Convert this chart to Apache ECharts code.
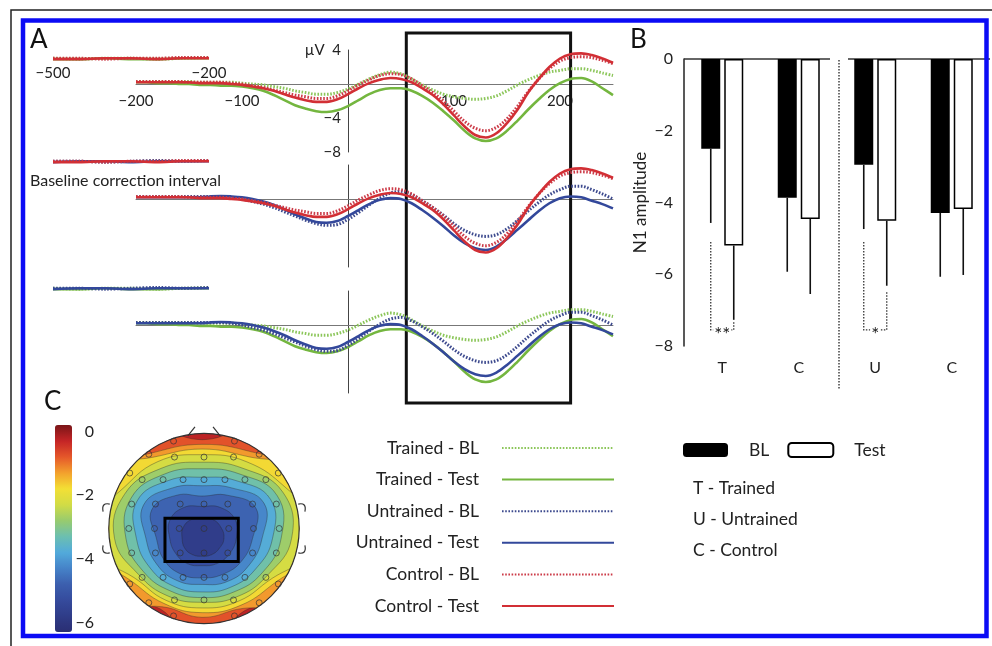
<!DOCTYPE html>
<html>
<head>
<meta charset="utf-8">
<script src="https://cdn.jsdelivr.net/npm/echarts@6/dist/echarts.min.js"></script>
<style>
  html, body { margin: 0; padding: 0; background: #fff; }
  #chart { width: 992px; height: 646px; }
</style>
</head>
<body>
<div id="chart"></div>
<script>
// ---------- Panel A: grand-average ERPs (µV), sampled every 10 ms ----------
const timesMs = Array.from({ length: 46 }, (_, i) => -200 + 10 * i);
const baselineTimesMs = [-500, -450, -400, -350, -300, -250, -200];

const trainedBL = [
  0.3, 0.3, 0.3, 0.3, 0.3, 0.3, 0.2, 0.2, 0.2, 0.2,
  0.1, 0.0, -0.1, -0.3, -0.5, -0.8, -1.0, -1.2, -1.2, -1.0,
  -0.6, 0.0, 0.6, 1.1, 1.4, 1.2, 0.6, -0.1, -0.7, -1.2,
  -1.5, -1.7, -1.8, -1.7, -1.4, -0.8, -0.1, 0.5, 1.0, 1.4,
  1.6, 1.8, 1.8, 1.6, 1.3, 1.0
];
const trainedTest = [
  0.2, 0.2, 0.1, 0.1, 0.0, 0.0, -0.1, -0.1, -0.2, -0.2,
  -0.3, -0.5, -0.8, -1.3, -1.9, -2.5, -2.9, -3.2, -3.3, -3.1,
  -2.6, -1.9, -1.2, -0.7, -0.5, -0.5, -0.8, -1.4, -2.2, -3.2,
  -4.3, -5.5, -6.4, -6.7, -6.4, -5.5, -4.3, -3.0, -1.8, -0.7,
  0.1, 0.6, 0.7, 0.3, -0.5, -1.3
];
const untrainedBL = [
  0.3, 0.3, 0.3, 0.3, 0.3, 0.3, 0.3, 0.3, 0.3, 0.2,
  0.0, -0.3, -0.6, -1.0, -1.5, -2.0, -2.5, -2.9, -3.1, -3.0,
  -2.4, -1.6, -0.7, 0.1, 0.7, 0.9, 0.5, -0.2, -1.0, -1.9,
  -2.9, -3.7, -4.2, -4.4, -4.2, -3.5, -2.5, -1.4, -0.4, 0.5,
  1.1, 1.5, 1.5, 1.1, 0.6, 0.0
];
const untrainedTest = [
  0.2, 0.2, 0.2, 0.2, 0.2, 0.2, 0.2, 0.3, 0.35, 0.3,
  0.2, 0.0, -0.3, -0.7, -1.2, -1.8, -2.3, -2.7, -2.8, -2.6,
  -2.0, -1.3, -0.6, -0.1, 0.1, 0.0, -0.5, -1.3, -2.2, -3.2,
  -4.3, -5.2, -5.8, -6.0, -5.6, -4.7, -3.6, -2.5, -1.4, -0.5,
  0.1, 0.3, 0.2, -0.2, -0.6, -1.1
];
const controlBL = [
  0.3, 0.3, 0.3, 0.3, 0.3, 0.2, 0.2, 0.2, 0.2, 0.1,
  0.0, -0.2, -0.4, -0.7, -1.0, -1.3, -1.5, -1.7, -1.7, -1.4,
  -0.8, -0.1, 0.5, 1.0, 1.2, 1.1, 0.6, -0.2, -1.0, -2.0,
  -3.2, -4.4, -5.2, -5.5, -5.1, -4.1, -2.6, -0.9, 0.6, 1.8,
  2.7, 3.1, 3.2, 3.1, 2.8, 2.4
];
const controlTest = [
  0.2, 0.2, 0.2, 0.2, 0.2, 0.2, 0.1, 0.1, 0.1, 0.0,
  -0.1, -0.3, -0.5, -0.8, -1.2, -1.6, -1.9, -2.1, -2.1, -1.8,
  -1.2, -0.5, 0.1, 0.5, 0.7, 0.6, 0.2, -0.5, -1.3, -2.4,
  -3.7, -5.0, -6.0, -6.3, -5.8, -4.6, -3.0, -1.0, 0.6, 2.0,
  3.0, 3.5, 3.6, 3.4, 3.0, 2.5
];

// baseline-correction interval (-500 to -200 ms)
const trainedBLPre = [0.2, 0.1, 0.2, 0.2, 0.1, 0.2, 0.3];
const trainedTestPre = [0.1, 0.1, 0.2, 0.1, 0.1, 0.2, 0.2];
const untrainedBLPre = [0.2, 0.2, 0.1, 0.2, 0.3, 0.2, 0.3];
const untrainedTestPre = [0.1, 0.2, 0.2, 0.1, 0.2, 0.2, 0.2];
const controlBLPre = [0.2, 0.2, 0.1, 0.2, 0.2, 0.3, 0.3];
const controlTestPre = [0.1, 0.1, 0.2, 0.2, 0.1, 0.2, 0.2];

const conditionNames = ['Trained - BL', 'Trained - Test', 'Untrained - BL',
  'Untrained - Test', 'Control - BL', 'Control - Test'];
const waveRows = [
  ['Trained - BL', 'Trained - Test', 'Control - BL', 'Control - Test'],
  ['Untrained - BL', 'Untrained - Test', 'Control - BL', 'Control - Test'],
  ['Trained - BL', 'Trained - Test', 'Untrained - BL', 'Untrained - Test']
];
const n1WindowMs = [55, 210];
const timeRange = [-200, 250];
const voltRange = [-8, 4];
const baselineRange = [-500, -200];
const baselineVoltRange = [-2, 2];
const timeTickLabels = [-200, -100, 100, 200];
const baselineTickLabels = [-500, -200];
const voltTickLabels = [4, -4, -8];

// ---------- Panel B: N1 amplitude (mean, error) ----------
const groupCategories = ['T', 'C', 'U', 'C'];
const blValues = [-2.5, -3.87, -2.95, -4.29];
const testValues = [-5.2, -4.46, -4.51, -4.18];
const blErr = [2.07, 2.06, 1.79, 1.78];
const testErr = [2.07, 2.09, 1.81, 1.84];
const sigCats = [0, 2];
const sigLeftTop = [-5.1, -5.1];
const sigRightTop = [-7.3, -6.5];
const sigBottom = [-7.55, -7.55];
const sigMarks = ['**', '*'];
const separatorRange = [0, -9.2];
const abbreviations = ['T - Trained', 'U - Untrained', 'C - Control'];

// ---------- Panel C: N1 scalp topography ----------
const contourLevels = [-0.5, -1, -1.5, -2, -2.5, -3, -3.5, -4, -4.5, -5, -5.5];
// radius of each contour (head radius = 1) seen from the field minimum,
// at 0°, 30°, ... 330° counter-clockwise from the right ear; null = off the scalp
const contourRadii = [
  [null, null, null, 1.05, null, null, null, null, 0.87, null, 0.89, null],
  [null, null, 1.06, 1.00, 1.05, null, null, null, 0.84, 0.84, 0.86, null],
  [null, null, 1.00, 0.95, 1.00, null, null, 0.88, 0.80, 0.79, 0.82, 0.91],
  [null, 1.04, 0.94, 0.89, 0.94, 1.00, null, 0.83, 0.76, 0.74, 0.77, 0.85],
  [0.94, 0.98, 0.86, 0.81, 0.86, 0.94, 0.92, 0.77, 0.71, 0.68, 0.72, 0.79],
  [0.83, 0.91, 0.79, 0.74, 0.79, 0.86, 0.80, 0.71, 0.65, 0.63, 0.66, 0.73],
  [0.74, 0.83, 0.71, 0.65, 0.71, 0.79, 0.69, 0.63, 0.59, 0.57, 0.60, 0.65],
  [0.63, 0.75, 0.62, 0.56, 0.62, 0.71, 0.59, 0.55, 0.52, 0.49, 0.53, 0.57],
  [0.53, 0.65, 0.53, 0.45, 0.53, 0.61, 0.48, 0.46, 0.44, 0.42, 0.44, 0.48],
  [0.36, 0.40, 0.38, 0.34, 0.38, 0.39, 0.34, 0.32, 0.31, 0.29, 0.31, 0.33],
  [0.23, 0.23, 0.23, 0.21, 0.23, 0.23, 0.21, 0.21, 0.20, 0.19, 0.20, 0.21]
];
const fieldMinimum = [-0.02, -0.105];
const electrodes = [
  [-0.31, 0.76], [0, 0.76], [0.31, 0.76],
  [-0.65, 0.52], [-0.43, 0.52], [-0.22, 0.52], [0, 0.52], [0.22, 0.52], [0.43, 0.52], [0.65, 0.52],
  [-0.76, 0.26], [-0.51, 0.26], [-0.25, 0.26], [0, 0.26], [0.25, 0.26], [0.51, 0.26], [0.76, 0.26],
  [-0.79, 0], [-0.52, 0], [-0.26, 0], [0, 0], [0.26, 0], [0.52, 0], [0.79, 0],
  [-0.76, -0.26], [-0.51, -0.26], [-0.25, -0.26], [0, -0.26], [0.25, -0.26], [0.51, -0.26], [0.76, -0.26],
  [-0.65, -0.52], [-0.43, -0.52], [-0.22, -0.52], [0, -0.52], [0.22, -0.52], [0.43, -0.52], [0.65, -0.52],
  [-0.31, -0.76], [0, -0.76], [0.31, -0.76],
  [0.78, 0.59], [0.58, 0.79], [0.32, 0.93], [-0.32, 0.93], [-0.58, 0.79], [-0.78, 0.59],
  [-0.78, -0.59], [-0.58, -0.79], [-0.32, -0.93], [0.32, -0.93], [0.58, -0.79], [0.78, -0.59]
];
const roiX = [-0.41, 0.36];
const roiY = [-0.35, 0.11];
const colorbarTicks = [0, -2, -4, -6];

// ---------- styling ----------
const FONT = 'Lato, "Open Sans", sans-serif';
const TEXT = '#222';
const condStyle = {
  'Trained - BL': { color: '#8cc65a', dotted: true },
  'Trained - Test': { color: '#74b63f', dotted: false },
  'Untrained - BL': { color: '#3d4a8e', dotted: true },
  'Untrained - Test': { color: '#33489b', dotted: false },
  'Control - BL': { color: '#cc3b48', dotted: true },
  'Control - Test': { color: '#d22f35', dotted: false }
};
const waveforms = {
  'Trained - BL': trainedBL, 'Trained - Test': trainedTest,
  'Untrained - BL': untrainedBL, 'Untrained - Test': untrainedTest,
  'Control - BL': controlBL, 'Control - Test': controlTest
};
const preStim = {
  'Trained - BL': trainedBLPre, 'Trained - Test': trainedTestPre,
  'Untrained - BL': untrainedBLPre, 'Untrained - Test': untrainedTestPre,
  'Control - BL': controlBLPre, 'Control - Test': controlTestPre
};
const minus = v => String(v).replace('-', '\u2212');

const BAR_W = 19;
const BAR_GAP = 4;
const BAR_OFFSET = (BAR_W + BAR_GAP) / 2;

// shift an axis from the grid edge onto the other axis' zero
const zeroShift = (size, range) => -size * (0 - range[0]) / (range[1] - range[0]);

// ---------- grids ----------
const ROW_W = 477, ROW_H = 102, BASE_W = 156, BASE_H = 34;
const rowTops = [50, 165, 291];
const baseTops = [43, 146, 273];
const grids = [];
const xAxes = [];
const yAxes = [];

rowTops.forEach((top, r) => {
  grids.push({ left: 136, top: top, width: ROW_W, height: ROW_H });
  xAxes.push({
    type: 'value', gridIndex: grids.length - 1, min: timeRange[0], max: timeRange[1], interval: 100,
    offset: zeroShift(ROW_H, voltRange),
    axisLine: { onZero: false, lineStyle: { color: '#777', width: 1 } },
    axisTick: { show: false }, splitLine: { show: false },
    axisLabel: {
      show: r === 0, customValues: timeTickLabels, formatter: minus, margin: 10,
      fontFamily: FONT, fontSize: 15, color: TEXT
    }
  });
  yAxes.push({
    type: 'value', gridIndex: grids.length - 1, min: voltRange[0], max: voltRange[1], interval: 4,
    offset: zeroShift(ROW_W, timeRange),
    axisLine: { onZero: false, lineStyle: { color: '#444', width: 1 } },
    axisTick: { show: false }, splitLine: { show: false },
    axisLabel: {
      show: r === 0, customValues: voltTickLabels, margin: 7,
      formatter: v => (v === 4 ? '\u00b5V  4' : minus(v)),
      fontFamily: FONT, fontSize: 15, color: TEXT
    }
  });
});
baseTops.forEach((top, r) => {
  grids.push({ left: 53, top: top, width: BASE_W, height: BASE_H });
  xAxes.push({
    type: 'value', gridIndex: grids.length - 1, min: baselineRange[0], max: baselineRange[1],
    offset: zeroShift(BASE_H, baselineVoltRange),
    axisLine: { show: false, onZero: false },
    axisTick: { show: false }, splitLine: { show: false },
    axisLabel: {
      show: r === 0, customValues: baselineTickLabels, formatter: minus, margin: 6,
      fontFamily: FONT, fontSize: 15, color: TEXT
    }
  });
  yAxes.push({
    type: 'value', gridIndex: grids.length - 1,
    min: baselineVoltRange[0], max: baselineVoltRange[1], show: false
  });
});
// N1 window overlay across the three rows
grids.push({ left: 136, top: 33, width: ROW_W, height: 370 });
xAxes.push({ type: 'value', gridIndex: 6, min: timeRange[0], max: timeRange[1], show: false });
yAxes.push({ type: 'value', gridIndex: 6, min: 0, max: 1, show: false });
// Panel B
grids.push({ left: 684, top: 59, width: 306, height: 287 });
xAxes.push({
  type: 'category', gridIndex: 7, data: groupCategories,
  axisLine: { show: false, onZero: false }, axisTick: { show: false },
  axisLabel: { margin: 14, fontFamily: FONT, fontSize: 16, color: TEXT }
});
yAxes.push({
  type: 'value', gridIndex: 7, min: -8, max: 0, interval: 2,
  name: 'N1 amplitude', nameLocation: 'middle', nameGap: 35,
  nameTextStyle: { fontFamily: FONT, fontSize: 17, color: TEXT },
  axisLine: { show: true, lineStyle: { color: '#222', width: 1.5 } },
  axisTick: { show: false }, splitLine: { show: false },
  axisLabel: { formatter: minus, margin: 11, fontFamily: FONT, fontSize: 16, color: TEXT }
});
// Panel C colour-bar ticks
grids.push({ left: 55, top: 425, width: 17, height: 207 });
xAxes.push({ type: 'value', gridIndex: 8, show: false, min: 0, max: 1 });
yAxes.push({
  type: 'value', gridIndex: 8, min: -6.3, max: 0.2, position: 'right',
  axisLine: { show: false }, axisTick: { show: false }, splitLine: { show: false },
  axisLabel: {
    customValues: colorbarTicks, formatter: minus, align: 'right', margin: 22,
    fontFamily: FONT, fontSize: 16, color: TEXT
  }
});
// Panel C head
grids.push({ left: 85, top: 411, width: 238, height: 238 });
xAxes.push({ type: 'value', gridIndex: 9, show: false, min: -1.25, max: 1.25 });
yAxes.push({ type: 'value', gridIndex: 9, show: false, min: -1.25, max: 1.25 });

// ---------- series ----------
const series = [];
waveRows.forEach((names, r) => {
  names.forEach(name => {
    const st = condStyle[name];
    const lineStyle = {
      color: st.color,
      width: st.dotted ? 3 : 2.6,
      type: st.dotted ? [1.6, 1.6] : 'solid'
    };
    series.push({
      type: 'line', name: name, xAxisIndex: r, yAxisIndex: r,
      data: timesMs.map((t, i) => [t, waveforms[name][i]]),
      smooth: 0.35, symbol: 'none', silent: true,
      lineStyle: lineStyle, itemStyle: { color: st.color }
    });
    series.push({
      type: 'line', name: name, xAxisIndex: 3 + r, yAxisIndex: 3 + r,
      data: baselineTimesMs.map((t, i) => [t, preStim[name][i]]),
      smooth: 0.3, symbol: 'none', silent: true,
      lineStyle: lineStyle, itemStyle: { color: st.color }
    });
  });
});

series.push({
  type: 'line', name: 'N1 window', xAxisIndex: 6, yAxisIndex: 6,
  data: [[n1WindowMs[0], 0]], symbol: 'none', silent: true,
  lineStyle: { opacity: 0 },
  markArea: {
    silent: true,
    itemStyle: { color: 'rgba(0,0,0,0)', borderColor: '#111', borderWidth: 3 },
    data: [[{ xAxis: n1WindowMs[0] }, { xAxis: n1WindowMs[1] }]]
  }
});

// bars
series.push({
  type: 'bar', name: 'BL', xAxisIndex: 7, yAxisIndex: 7, data: blValues,
  barWidth: BAR_W, barGap: (BAR_GAP / BAR_W * 100) + '%', silent: true,
  itemStyle: { color: '#000' }
});
series.push({
  type: 'bar', name: 'Test', xAxisIndex: 7, yAxisIndex: 7, data: testValues,
  barWidth: BAR_W, silent: true,
  itemStyle: { color: '#fff', borderColor: '#000', borderWidth: 1.5 }
});
// error bars
const errData = [];
groupCategories.forEach((c, i) => {
  errData.push([i, blValues[i], blErr[i], -1]);
  errData.push([i, testValues[i], testErr[i], 1]);
});
series.push({
  type: 'custom', name: 'error', xAxisIndex: 7, yAxisIndex: 7, silent: true,
  encode: { x: 0, y: 1 }, data: errData,
  renderItem: (params, api) => {
    const cat = api.value(0);
    const top = api.coord([cat, api.value(1)]);
    const bottom = api.coord([cat, api.value(1) - api.value(2)]);
    const x = top[0] + api.value(3) * BAR_OFFSET;
    return {
      type: 'line', shape: { x1: x, y1: top[1], x2: x, y2: bottom[1] },
      style: { stroke: '#111', lineWidth: 1.6 }
    };
  }
});
// zero line and group separator
series.push({
  type: 'custom', name: 'frame', xAxisIndex: 7, yAxisIndex: 7, silent: true,
  encode: { x: 0, y: 1 }, data: [[0, 0]],
  renderItem: (params, api) => {
    const cs = params.coordSys;
    const sepX = (api.coord([1, 0])[0] + api.coord([2, 0])[0]) / 2 + 2;
    const y0 = api.coord([0, separatorRange[0]])[1];
    const y1 = api.coord([0, separatorRange[1]])[1];
    const solid = { stroke: '#333', lineWidth: 1.5 };
    return {
      type: 'group', children: [
        { type: 'line', shape: { x1: cs.x, y1: y0, x2: sepX - 9, y2: y0 }, style: solid },
        { type: 'line', shape: { x1: sepX + 9, y1: y0, x2: cs.x + cs.width, y2: y0 }, style: solid },
        { type: 'line', shape: { x1: sepX, y1: y0 + 1, x2: sepX, y2: y1 },
          style: { stroke: '#333', lineWidth: 1.4, lineDash: [1.5, 1.5] } }
      ]
    };
  }
});
// significance brackets
series.push({
  type: 'custom', name: 'significance', xAxisIndex: 7, yAxisIndex: 7, silent: true,
  encode: { x: 0, y: 1 },
  data: sigCats.map((c, i) => [c, sigLeftTop[i], sigRightTop[i], sigBottom[i], i]),
  renderItem: (params, api) => {
    const cat = api.value(0);
    const cx = api.coord([cat, 0])[0];
    const xl = cx - BAR_OFFSET;
    const xr = cx + BAR_OFFSET;
    const yl = api.coord([cat, api.value(1)])[1];
    const yr = api.coord([cat, api.value(2)])[1];
    const yb = api.coord([cat, api.value(3)])[1];
    return {
      type: 'group', children: [
        { type: 'polyline', shape: { points: [[xl, yl], [xl, yb], [xr, yb], [xr, yr]] },
          style: { stroke: '#333', lineWidth: 1.3, lineDash: [1.5, 1.5], fill: null } },
        { type: 'text', z2: 5,
          style: { x: cx, y: yb + 5, text: sigMarks[api.value(4)], textAlign: 'center',
            textVerticalAlign: 'middle', fontFamily: FONT, fontSize: 19, fill: TEXT,
            backgroundColor: '#fff', padding: [0, 1] } }
      ]
    };
  }
});

// topography bands (coloured through the visualMap)
const bandValues = [-0.25].concat(contourLevels.map(l => l - 0.25));
const topoIndex = series.length;
series.push({
  type: 'custom', name: 'topography', xAxisIndex: 9, yAxisIndex: 9, silent: true,
  encode: { x: 0, y: 0 }, data: bandValues.map((v, i) => [v, i]), z: 1,
  renderItem: (params, api) => {
    const idx = params.dataIndex;
    const color = api.visual('color');
    const c = api.coord([0, 0]);
    const rPx = api.coord([1, 0])[0] - c[0];
    if (idx === 0) {
      return { type: 'circle', shape: { cx: c[0], cy: c[1], r: rPx }, style: { fill: color } };
    }
    const radii = contourRadii[idx - 1];
    const pts = radii.map((r, k) => {
      const a = k * Math.PI / 6;
      const rr = r == null ? 1.4 : r;
      return api.coord([fieldMinimum[0] + rr * Math.cos(a), fieldMinimum[1] + rr * Math.sin(a)]);
    });
    return {
      type: 'polygon', shape: { points: pts, smooth: 0.45 },
      style: { fill: color, stroke: 'rgba(40,40,40,0.45)', lineWidth: 0.8 },
      clipPath: { type: 'circle', shape: { cx: c[0], cy: c[1], r: rPx } }
    };
  }
});
// head outline, nose, ears and region of interest
series.push({
  type: 'custom', name: 'head', xAxisIndex: 9, yAxisIndex: 9, silent: true,
  encode: { x: 0, y: 1 }, data: [[0, 0]], z: 3,
  renderItem: (params, api) => {
    const p = (x, y) => api.coord([x, y]);
    const c = p(0, 0);
    const rPx = p(1, 0)[0] - c[0];
    const ink = { stroke: '#333', lineWidth: 1.2, fill: null };
    const ear = (s, t) => {
      const a = p(s * 0.99, t * 0.26), b = p(s * 1.08, t * 0.28), e = p(s * 1.06, t * 0.18);
      return { type: 'bezierCurve',
        shape: { x1: a[0], y1: a[1], cpx1: b[0], cpy1: b[1], x2: e[0], y2: e[1] }, style: ink };
    };
    const n1 = p(-0.17, 0.985), n2 = p(-0.095, 1.08), n3 = p(0.095, 1.08), n4 = p(0.17, 0.985);
    const r1 = p(roiX[0], roiY[1]), r2 = p(roiX[1], roiY[0]);
    return {
      type: 'group', children: [
        { type: 'circle', shape: { cx: c[0], cy: c[1], r: rPx }, style: ink },
        { type: 'line', shape: { x1: n1[0], y1: n1[1], x2: n2[0], y2: n2[1] }, style: ink },
        { type: 'line', shape: { x1: n4[0], y1: n4[1], x2: n3[0], y2: n3[1] }, style: ink },
        ear(-1, 1), ear(-1, -1), ear(1, 1), ear(1, -1),
        { type: 'rect', z2: 10,
          shape: { x: r1[0], y: r1[1], width: r2[0] - r1[0], height: r2[1] - r1[1] },
          style: { stroke: '#000', lineWidth: 3, fill: null } }
      ]
    };
  }
});
series.push({
  type: 'scatter', name: 'electrodes', xAxisIndex: 9, yAxisIndex: 9, silent: true,
  data: electrodes, symbol: 'circle', symbolSize: 6, z: 2,
  itemStyle: { color: 'rgba(0,0,0,0)', borderColor: 'rgba(50,50,50,0.85)', borderWidth: 1 }
});

// ---------- option ----------
const option = {
  animation: false,
  backgroundColor: '#fff',
  grid: grids,
  xAxis: xAxes,
  yAxis: yAxes,
  series: series,
  visualMap: {
    type: 'continuous', seriesIndex: topoIndex, dimension: 0,
    min: -6.3, max: 0.2, left: 55, top: 425, itemWidth: 17, itemHeight: 207,
    padding: 0, calculable: false, hoverLink: false, text: null, showLabel: false,
    inRange: {
      color: ['#2a2e72', '#2f3c88', '#354b9d', '#3c5fae', '#4683c8', '#52aadb', '#6cbfb0',
        '#98cb6e', '#d2dc45', '#f3df35', '#f3a02d', '#e5572a', '#c42426', '#7a1518']
    }
  },
  legend: [
    {
      data: conditionNames, orient: 'vertical', align: 'right', right: 377, top: 439,
      padding: 0, itemWidth: 112, itemHeight: 12, itemGap: 13.6, selectedMode: false,
      itemStyle: { color: 'rgba(0,0,0,0)', borderColor: 'rgba(0,0,0,0)', borderWidth: 0 },
      textStyle: { fontFamily: FONT, fontSize: 17.5, color: TEXT, padding: [0, 18, 0, 0] }
    },
    {
      data: ['BL', 'Test'], orient: 'horizontal', left: 683, top: 441, padding: 0,
      itemWidth: 45, itemHeight: 14, itemGap: 18, selectedMode: false,
      textStyle: { fontFamily: FONT, fontSize: 17.5, color: TEXT, padding: [0, 0, 0, 16] }
    }
  ],
  graphic: [
    { type: 'polyline', z: 100, silent: true,
      shape: { points: [[11, 646], [11, 10], [992, 10]] },
      style: { stroke: '#222', lineWidth: 1.5, fill: null } },
    { type: 'rect', z: 100, silent: true,
      shape: { x: 23, y: 20.5, width: 963.5, height: 615.5 },
      style: { stroke: '#0b0bf5', lineWidth: 4.5, fill: null } },
    { type: 'text', x: 30, y: 27, silent: true,
      style: { text: 'A', fontFamily: FONT, fontSize: 26, fill: '#111' } },
    { type: 'text', x: 630, y: 27, silent: true,
      style: { text: 'B', fontFamily: FONT, fontSize: 26, fill: '#111' } },
    { type: 'text', x: 44, y: 389, silent: true,
      style: { text: 'C', fontFamily: FONT, fontSize: 26, fill: '#111' } },
    { type: 'text', x: 30, y: 181, silent: true,
      style: { text: 'Baseline correction interval', textVerticalAlign: 'middle',
        fontFamily: FONT, fontSize: 16, fill: TEXT } }
  ].concat(abbreviations.map((t, i) => ({
    type: 'text', x: 693, y: 488 + 31 * i, silent: true,
    style: { text: t, textVerticalAlign: 'middle', fontFamily: FONT, fontSize: 17.5, fill: TEXT }
  })))
};

const chart = echarts.init(document.getElementById('chart'), null, { width: 992, height: 646 });
chart.setOption(option);
</script>
</body>
</html>
